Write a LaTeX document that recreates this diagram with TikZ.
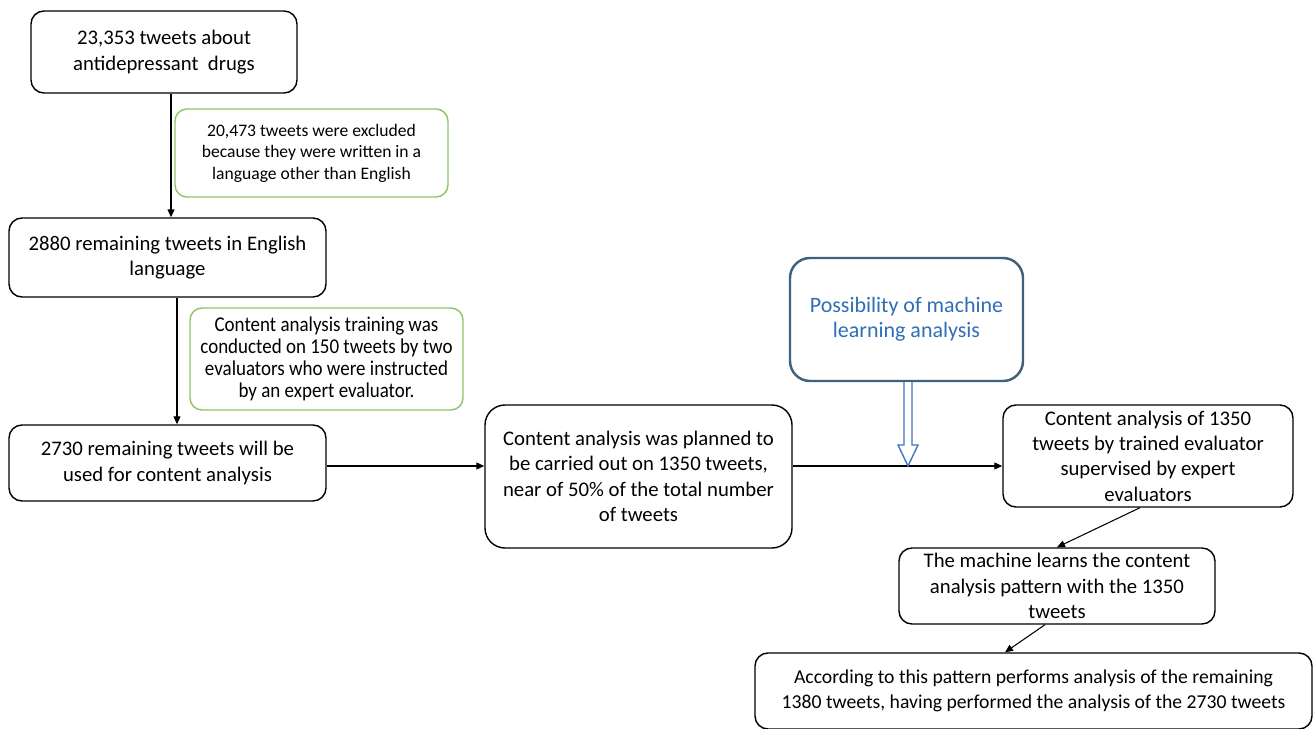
\documentclass[tikz,border=0pt]{standalone}
\usepackage{tikz}
\usetikzlibrary{arrows.meta, positioning, calc}
\usepackage{fontspec}
\setmainfont{Carlito}
\newfontfamily\narrowfont[FakeStretch=0.9]{Carlito}
\definecolor{notegreen}{HTML}{8CC46A}
\definecolor{mlborder}{HTML}{41607A}
\definecolor{mltext}{HTML}{2F6EB5}
\definecolor{mlarrow}{HTML}{4472C4}

\begin{document}
\begin{tikzpicture}[
  box/.style={draw, line width=0.8pt, rounded corners=0.26cm, align=center, font=\fontsize{11.8}{14.4}\selectfont, inner sep=2pt},
  note/.style={draw=notegreen, line width=0.8pt, rounded corners=0.24cm, align=center, font=\fontsize{10}{12.2}\selectfont, inner sep=2pt},
  mlbox/.style={draw=mlborder, line width=1.4pt, rounded corners=0.4cm, align=center, text=mltext, font=\fontsize{12.5}{14.4}\selectfont},
  arrow/.style={-{Triangle[length=1.6mm, width=1.4mm]}, line width=0.6pt},
  hollow/.style={draw=mlarrow, line width=0.8pt, fill=white, line join=miter}
]
\useasboundingbox (0,0) rectangle (26.26,-14.58);

% left column
\node[box, minimum width=5.32cm, minimum height=1.64cm] (tweets) at (3.28,-1.04) {23,353 tweets about\\antidepressant\ \ drugs};
\node[note, minimum width=5.46cm, minimum height=1.76cm] (excluded) at (6.23,-3.06) {20,473 tweets were excluded\\because they were written in a\\language other than English};
\node[box, minimum width=6.34cm, minimum height=1.58cm] (english) at (3.35,-5.15) {2880 remaining tweets in English\\language};
\node[note, minimum width=5.46cm, minimum height=2.04cm, font=\narrowfont\fontsize{12}{12.6}\selectfont] (training) at (6.53,-7.18) {Content analysis training was\\conducted on 150 tweets by two\\evaluators who were instructed\\by an expert evaluator.};
\node[box, minimum width=6.34cm, minimum height=1.52cm] (remaining) at (3.35,-9.26) {2730 remaining tweets will be\\used for content analysis};

% middle and right
\node[box, minimum width=6.14cm, minimum height=2.86cm, rounded corners=0.4cm] (planned) at (12.77,-9.53) {Content analysis was planned to\\be carried out on 1350 tweets,\\near of 50\% of the total number\\of tweets};
\node[mlbox, minimum width=4.66cm, minimum height=2.46cm] (ml) at (18.13,-6.39) {Possibility of machine\\learning analysis};
\node[box, minimum width=5.8cm, minimum height=2.04cm] (content) at (22.96,-9.12) {Content analysis of 1350\\tweets by trained evaluator\\supervised by expert\\evaluators};
\node[box, minimum width=6.32cm, minimum height=1.52cm] (learns) at (21.14,-11.72) {The machine learns the content\\analysis pattern with the 1350\\tweets};
\node[box, minimum width=11.14cm, minimum height=1.52cm, font=\fontsize{11.2}{14}\selectfont] (pattern) at (20.67,-13.82) {According to this pattern performs analysis of the remaining\\1380 tweets, having performed the analysis of the 2730 tweets};

\draw[arrow] ([xshift=0.14cm]tweets.south) -- ([xshift=0.14cm]tweets.south |- english.north);
\draw[arrow] ([xshift=0.19cm]english.south) -- ([xshift=0.19cm]english.south |- remaining.north);
\draw[arrow] ([yshift=-0.06cm]remaining.east) -- ([yshift=-0.06cm]remaining.east -| planned.west);
\draw[arrow] ([yshift=-0.06cm]remaining.east -| planned.east) -- ([yshift=-0.06cm]remaining.east -| content.west);
\draw[arrow] ([xshift=-0.16cm]content.south) -- (learns.north);
\draw[arrow] ([xshift=-0.24cm]learns.south) -- ([xshift=-0.57cm]pattern.north);

% hollow arrow from the machine learning box
\coordinate (mltop) at ([xshift=0.03cm]ml.south);
\coordinate (mltip) at ([yshift=-0.06cm]mltop |- remaining.east);
\path[hollow] ([xshift=-0.08cm]mltop) -- ([xshift=-0.08cm,yshift=0.42cm]mltip) -- ([xshift=-0.2cm,yshift=0.42cm]mltip) -- (mltip) -- ([xshift=0.2cm,yshift=0.42cm]mltip) -- ([xshift=0.08cm,yshift=0.42cm]mltip) -- ([xshift=0.08cm]mltop);
\end{tikzpicture}
\end{document}
